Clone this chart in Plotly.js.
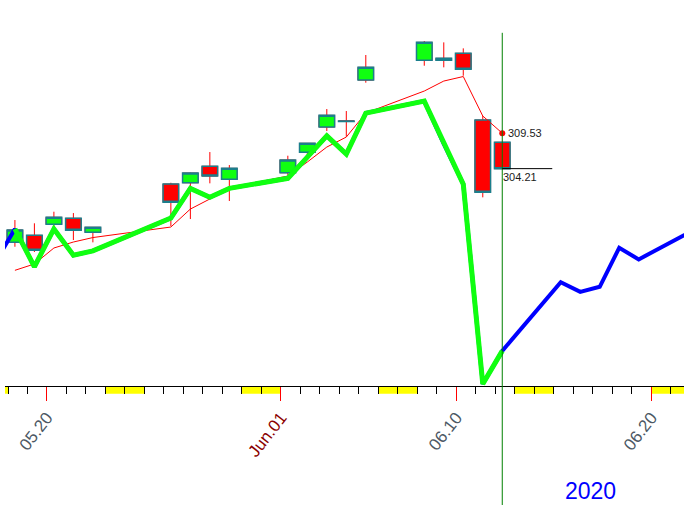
<!DOCTYPE html>
<html>
<head>
<meta charset="utf-8">
<script src="https://cdn.plot.ly/plotly-3.0.1.min.js"></script>
<style>html,body{margin:0;padding:0;background:#fff;}#chart{width:684px;height:505px;}</style>
</head>
<body>
<div id="chart"></div>
<script>
// ---- data ----
const dates = ['2020-05-18','2020-05-19','2020-05-20','2020-05-21','2020-05-22','2020-05-26','2020-05-27','2020-05-28','2020-05-29','2020-06-01','2020-06-02','2020-06-03','2020-06-04','2020-06-05','2020-06-08','2020-06-09','2020-06-10','2020-06-11','2020-06-12'];
const openP  = [293.14, 294.19, 295.85, 296.75, 294.65, 301.90, 302.09, 304.56, 302.60, 303.59, 306.66, 310.46, 311.30, 317.51, 320.47, 320.47, 321.52, 311.51, 308.16];
const highP  = [296.49, 296.00, 297.74, 297.54, 295.40, 302.09, 303.60, 306.70, 304.75, 306.15, 308.01, 313.16, 312.86, 321.27, 323.37, 323.17, 322.27, 312.11, 308.16];
const lowP   = [292.48, 291.69, 295.50, 293.49, 293.14, 295.59, 296.64, 302.00, 299.35, 303.25, 306.00, 309.86, 309.00, 317.11, 319.66, 319.42, 318.16, 299.90, 304.21];
const closeP = [294.99, 291.94, 296.90, 294.95, 295.40, 299.15, 303.55, 303.10, 304.25, 305.50, 308.01, 312.21, 311.36, 319.42, 323.17, 320.77, 319.12, 300.65, 304.21];
const maLine = [288.94, 289.89, 292.29, 293.19, 293.86, 295.44, 298.14, 299.65, 301.30, 303.10, 305.20, 307.45, 308.95, 312.56, 315.86, 317.36, 318.04, 312.11, 309.53];

const oscPriorDates = ['2020-05-15'];
const oscPrior = [14.9];
const oscHist = [40.7, 30.9, 40.7, 33.9, 35.0, 43.5, 51.2, 48.9, 51.2, 53.8, 59.3, 64.8, 60.1, 70.7, 73.8, 62.7, 52.3, 0.5, 9.1];
const futureDates = ['2020-06-15','2020-06-16','2020-06-17','2020-06-18','2020-06-19','2020-06-22'];
const oscFuture = [26.9, 24.4, 25.7, 35.8, 32.8, 40.9];

const weekendStarts = ['2020-05-16','2020-05-23','2020-05-30','2020-06-06','2020-06-13','2020-06-20'];
const tickDates = ['2020-05-20','2020-06-01','2020-06-10','2020-06-20'];
const tickLabels = ['05.20','<span style="color:#8b0000">Jun.01</span>','06.10','06.20'];
const yearLabel = '2020';

// ---- helpers ----
const bar = d => d + ' 08:30';            // bar drawn inside its day
function addDays(d, n) {
  const t = new Date(d + 'T00:00:00Z');
  t.setUTCDate(t.getUTCDate() + n);
  return t.toISOString().slice(0, 10);
}
const xs = dates.map(bar);
const n = dates.length;
const lastX = xs[n - 1];
const lastClose = closeP[n - 1];
const lastMA = maLine[n - 1];
const bodyHi = openP.map((o, i) => Math.max(o, closeP[i]));
const bodyLo = openP.map((o, i) => Math.min(o, closeP[i]));

const FONT = 'Arial, "Liberation Sans", sans-serif';
const EDGE = '#1b7f8c';

const traces = [
  { // wicks
    type: 'candlestick', x: xs, open: openP, high: highP, low: lowP, close: closeP,
    increasing: { line: { color: '#ff0000', width: 1 }, fillcolor: '#10ff10' },
    decreasing: { line: { color: '#ff0000', width: 1 }, fillcolor: '#ff0000' },
    whiskerwidth: 0, hoverinfo: 'skip', showlegend: false
  },
  { // bodies
    type: 'candlestick', x: xs, open: openP, high: bodyHi, low: bodyLo, close: closeP,
    increasing: { line: { color: EDGE, width: 1.5 }, fillcolor: '#10ff10' },
    decreasing: { line: { color: EDGE, width: 1.5 }, fillcolor: '#ff0000' },
    whiskerwidth: 0, hoverinfo: 'skip', showlegend: false
  },
  {
    type: 'scatter', mode: 'lines', x: xs, y: maLine,
    line: { color: '#ff0000', width: 1 }, hoverinfo: 'skip'
  },
  {
    type: 'scatter', mode: 'markers', x: [lastX], y: [lastMA],
    marker: { color: '#ff0000', size: 6 }, hoverinfo: 'skip'
  },
  {
    type: 'scatter', mode: 'lines', yaxis: 'y2',
    x: oscPriorDates.map(bar).concat(xs, futureDates.map(bar)),
    y: oscPrior.concat(oscHist, oscFuture),
    line: { color: '#0000ff', width: 4 }, hoverinfo: 'skip'
  },
  {
    type: 'scatter', mode: 'lines', yaxis: 'y2', x: xs, y: oscHist,
    line: { color: '#10ff10', width: 5 }, hoverinfo: 'skip'
  }
];

const shapes = weekendStarts.map(d => ({
  type: 'rect', xref: 'x', yref: 'paper', x0: d, x1: addDays(d, 2),
  y0: -0.02, y1: 0, fillcolor: '#ffff00', line: { width: 0 }, layer: 'below'
}));
shapes.push({
  type: 'line', xref: 'x', yref: 'paper', x0: lastX, x1: lastX, y0: -0.31, y1: 0.915,
  line: { color: '#008000', width: 1 }
});
shapes.push({
  type: 'line', xref: 'x', yref: 'y', xsizemode: 'pixel', xanchor: lastX, x0: 0, x1: 50,
  y0: lastClose, y1: lastClose, line: { color: '#000000', width: 1 }
});

const layout = {
  width: 684, height: 505, autosize: false,
  margin: { l: 5, r: 0, t: 0, b: 119, pad: 0 },
  paper_bgcolor: '#ffffff', plot_bgcolor: '#ffffff',
  showlegend: false, hovermode: false,
  boxgap: 0.2, boxgroupgap: 0, boxmode: 'overlay',
  xaxis: {
    type: 'date', range: ['2020-05-17 20:18', '2020-06-21 16:15'],
    showgrid: false, zeroline: false, showline: true, linecolor: '#000000', linewidth: 1,
    ticks: 'outside', ticklen: 14, tickcolor: '#ff0000', tickwidth: 1,
    tickmode: 'array', tickvals: tickDates, ticktext: tickLabels, tickangle: -52,
    tickfont: { family: FONT, size: 17, color: '#4c5864' },
    minor: { ticks: 'outside', ticklen: 7, tickcolor: '#000000', tickwidth: 1, dtick: 86400000, tick0: '2020-05-18', showgrid: false },
    rangeslider: { visible: false }, fixedrange: true
  },
  yaxis: { range: [271.57, 329.53], visible: false, fixedrange: true },
  yaxis2: { range: [0, 100], overlaying: 'y', visible: false, fixedrange: true },
  shapes: shapes,
  annotations: [
    { xref: 'x', yref: 'y', x: lastX, y: lastMA, text: lastMA.toFixed(2), showarrow: false,
      xanchor: 'left', yanchor: 'middle', xshift: 4, font: { family: FONT, size: 11, color: '#1a1a1a' } },
    { xref: 'x', yref: 'y', x: lastX, y: lastClose, text: lastClose.toFixed(2), showarrow: false,
      xanchor: 'left', yanchor: 'top', xshift: -1, font: { family: FONT, size: 11, color: '#1a1a1a' } },
    { xref: 'paper', yref: 'paper', x: 0.8616, y: -0.272, text: yearLabel, showarrow: false,
      xanchor: 'center', yanchor: 'middle', font: { family: FONT, size: 23, color: '#0000ff' } }
  ]
};

Plotly.newPlot('chart', traces, layout, { displayModeBar: false, staticPlot: true });
</script>
</body>
</html>
